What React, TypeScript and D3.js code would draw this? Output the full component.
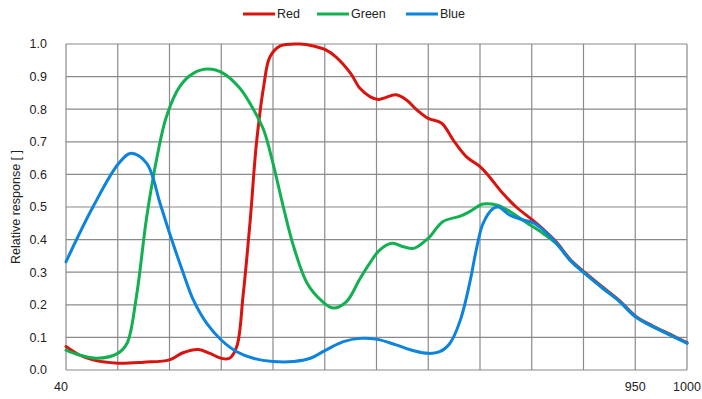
import React from "react";
import * as d3 from "d3";

const redW = [400, 413, 426, 450, 475, 500, 513, 528, 539, 550, 558, 565, 571, 578, 584, 591, 597, 607, 626, 639, 651, 661, 675, 684, 694, 702, 719, 729, 739, 750, 763, 774, 787, 800, 809, 822, 835, 850, 861, 874, 887, 901, 919, 935, 950, 967, 984, 1000];
const redV = [0.072, 0.046, 0.031, 0.021, 0.024, 0.031, 0.053, 0.063, 0.051, 0.036, 0.036, 0.072, 0.225, 0.46, 0.695, 0.87, 0.96, 0.994, 1.0, 0.994, 0.982, 0.96, 0.91, 0.864, 0.838, 0.83, 0.844, 0.828, 0.798, 0.772, 0.757, 0.706, 0.654, 0.624, 0.593, 0.542, 0.5, 0.462, 0.432, 0.392, 0.34, 0.3, 0.253, 0.212, 0.166, 0.135, 0.109, 0.084];

const greenW = [400, 413, 430, 450, 459, 468, 478, 488, 497, 510, 523, 537, 552, 568, 581, 591, 600, 610, 620, 633, 646, 658, 671, 684, 694, 703, 715, 726, 736, 750, 764, 781, 790, 803, 816, 829, 845, 861, 874, 887, 901, 919, 935, 950, 967, 984, 1000];
const greenV = [0.061, 0.046, 0.036, 0.051, 0.082, 0.225, 0.47, 0.654, 0.777, 0.87, 0.91, 0.923, 0.91, 0.864, 0.8, 0.736, 0.634, 0.5, 0.378, 0.266, 0.215, 0.19, 0.21, 0.28, 0.33, 0.368, 0.389, 0.378, 0.373, 0.404, 0.455, 0.472, 0.486, 0.509, 0.506, 0.486, 0.452, 0.419, 0.387, 0.337, 0.297, 0.25, 0.21, 0.164, 0.133, 0.107, 0.082];

const blueW = [400, 426, 451, 463, 478, 491, 500, 513, 523, 536, 550, 565, 581, 600, 620, 636, 651, 668, 684, 701, 719, 736, 750, 761, 771, 781, 790, 797, 803, 813, 818, 829, 842, 851, 861, 874, 887, 901, 919, 935, 950, 967, 984, 1000];
const blueV = [0.332, 0.5, 0.634, 0.665, 0.634, 0.51, 0.42, 0.3, 0.215, 0.143, 0.092, 0.056, 0.036, 0.026, 0.026, 0.036, 0.061, 0.087, 0.097, 0.094, 0.077, 0.059, 0.051, 0.056, 0.082, 0.153, 0.266, 0.378, 0.45, 0.496, 0.5, 0.475, 0.46, 0.452, 0.43, 0.389, 0.337, 0.297, 0.25, 0.21, 0.164, 0.133, 0.107, 0.082];

const yTicks = [0, 0.1, 0.2, 0.3, 0.4, 0.5, 0.6, 0.7, 0.8, 0.9, 1.0];
const xGrid = [400, 450, 500, 550, 600, 650, 700, 750, 800, 850, 900, 950, 1000];
const xLabels = [
  { v: 400, t: "40" },
  { v: 950, t: "950" },
  { v: 1000, t: "1000" },
];
const series = [
  { name: "Red", w: redW, v: redV, color: "#d9140f" },
  { name: "Green", w: greenW, v: greenV, color: "#12b050" },
  { name: "Blue", w: blueW, v: blueV, color: "#0c83dd" },
];

export default function App() {
  const W = 702, H = 399;
  const x = d3.scaleLinear().domain([400, 1000]).range([66, 687]);
  const y = d3.scaleLinear().domain([0, 1]).range([370, 44]);
  const font = "'Liberation Sans', Arial, sans-serif";
  const legendX = [243, 317, 406];
  return (
    <svg width={W} height={H} style={{ position: "absolute", left: 0, top: 0, background: "#fff" }}>
      <g stroke="#8a8a8a" strokeWidth={1.2}>
        {xGrid.map((g) => (
          <line key={"x" + g} x1={x(g)} x2={x(g)} y1={y(0)} y2={y(1)} />
        ))}
        {yTicks.map((t) => (
          <line key={"y" + t} x1={x(400)} x2={x(1000)} y1={y(t)} y2={y(t)} />
        ))}
      </g>
      {series.map((s) => {
        const pts = s.w.map((w, i) => [w, s.v[i]] as [number, number]);
        const line = d3
          .line<[number, number]>()
          .x((d) => x(d[0]))
          .y((d) => y(d[1]))
          .curve(d3.curveCatmullRom.alpha(0.5));
        return <path key={s.name} d={line(pts) || ""} fill="none" stroke={s.color} strokeWidth={3} strokeLinejoin="round" strokeLinecap="round" />;
      })}
      <g fontFamily={font} fontSize={12.5} fill="#222">
        {yTicks.map((t) => (
          <text key={"yl" + t} x={47} y={y(t)} dy="0.35em" textAnchor="end">
            {t.toFixed(1)}
          </text>
        ))}
        {xLabels.map((l) => (
          <text key={"xl" + l.v} x={l.v === 400 ? x(400) - 5 : x(l.v)} y={391} textAnchor="middle">
            {l.t}
          </text>
        ))}
        <text transform={`translate(20,${(y(0) + y(1)) / 2}) rotate(-90)`} textAnchor="middle" fontSize={12.5}>
          Relative response [ ]
        </text>
      </g>
      <g fontFamily={font} fontSize={12.5} fill="#222">
        {series.map((s, i) => (
          <g key={"lg" + s.name}>
            <line x1={legendX[i]} x2={legendX[i] + 32} y1={14} y2={14} stroke={s.color} strokeWidth={3} />
            <text x={legendX[i] + 34} y={14} dy="0.35em">
              {s.name}
            </text>
          </g>
        ))}
      </g>
    </svg>
  );
}
